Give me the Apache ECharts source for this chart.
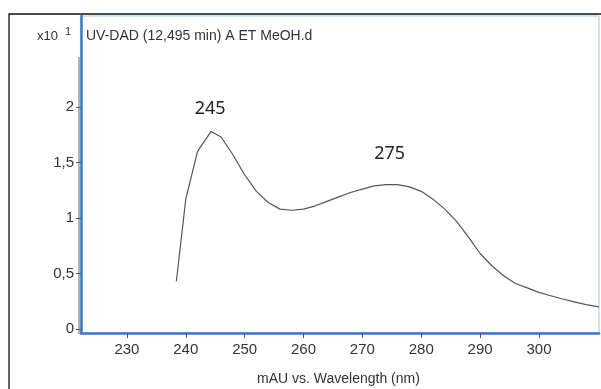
<!DOCTYPE html>
<html>
<head>
<meta charset="UTF-8">
<script src="https://cdn.jsdelivr.net/npm/echarts@6/dist/echarts.min.js"></script>
<style>
  html, body { margin: 0; padding: 0; background: #fff; }
  #chart { width: 601px; height: 389px; }
</style>
</head>
<body>
<div id="chart"></div>
<script>
// spectrum (wavelength nm, signal x10 mAU)
var wavelengths = [238.4, 240, 242, 244.3, 246, 248, 250, 252, 254, 256, 258, 260, 262, 264, 266, 268,
                   270, 272, 274, 276, 278, 280, 282, 284, 286, 288, 290, 292, 294, 296, 298, 300,
                   302, 304, 306, 308, 310.2];
var absorb = [0.43, 1.17, 1.60, 1.78, 1.73, 1.57, 1.39, 1.24, 1.14, 1.08, 1.07, 1.08, 1.11, 1.15, 1.19, 1.23,
              1.26, 1.29, 1.30, 1.30, 1.28, 1.24, 1.17, 1.08, 0.97, 0.83, 0.68, 0.57, 0.48, 0.41, 0.37, 0.33,
              0.30, 0.27, 0.245, 0.22, 0.20];
var xTicks = [230, 240, 250, 260, 270, 280, 290, 300];
var yTicks = [0, 0.5, 1, 1.5, 2];
var peakWl = [244.3, 274.8];
var peakVal = [1.78, 1.30];
var peakText = ['245', '275'];

var pts = wavelengths.map(function (w, i) { return [w, absorb[i]]; });
var marks = peakWl.map(function (w, i) {
  return { coord: [w, peakVal[i]], value: peakText[i], label: { offset: [-1, i == 0 ? -23 : -31] } };
});

var ec = echarts.init(document.getElementById('chart'));
ec.setOption({
  animation: false,
  grid: { left: 81, top: 16, right: 2, bottom: 56, show: true, borderColor: '#a9c4ef', borderWidth: 1 },
  graphic: [
    { type: 'rect', shape: { x: 9, y: 14, width: 620, height: 420 }, style: { fill: 'none', stroke: '#111', lineWidth: 1.3 }, z: -1 },
    { type: 'line', shape: { x1: 79, y1: 57, x2: 79, y2: 334 }, style: { stroke: '#999', lineWidth: 1.5 } },
    { type: 'text', left: 37, top: 30, style: { text: 'x10', font: '13px "Liberation Sans"', fill: '#333' } },
    { type: 'text', left: 65, top: 26, style: { text: '1', font: '11px "Liberation Sans"', fill: '#333' } },
    { type: 'text', left: 86, top: 29, style: { text: 'UV-DAD (12,495 min) A ET MeOH.d', font: '14px "Liberation Sans"', fill: '#333' } },
    { type: 'text', left: 257, top: 372, style: { text: 'mAU vs. Wavelength (nm)', font: '14px "Liberation Sans"', fill: '#333' } }
  ],
  xAxis: {
    type: 'value', min: 222.2, max: 310.2,
    axisLine: { show: true, onZero: false, lineStyle: { color: '#3a74d8', width: 2.5 } },
    axisTick: { show: true, length: 5, customValues: xTicks, lineStyle: { color: '#555' } },
    axisLabel: { customValues: xTicks, color: '#333', fontSize: 15, fontFamily: '"Liberation Sans"', margin: 9 },
    splitLine: { show: false }
  },
  yAxis: {
    type: 'value', min: -0.036, max: 2.82,
    axisLine: { show: true, onZero: false, lineStyle: { color: '#3a74d8', width: 2.5 } },
    axisTick: { show: true, length: 5, customValues: yTicks, lineStyle: { color: '#555' } },
    axisLabel: {
      customValues: yTicks, color: '#333', fontSize: 15, fontFamily: '"Liberation Sans"', margin: 7,
      formatter: function (v) { return String(v).replace('.', ','); }
    },
    splitLine: { show: false }
  },
  series: [{
    type: 'line',
    data: pts,
    showSymbol: false,
    lineStyle: { color: '#555', width: 1.2 },
    markPoint: {
      symbol: 'circle', symbolSize: 0,
      label: { show: true, position: 'inside', formatter: '{c}', color: '#222', fontSize: 18, fontFamily: '"Noto Sans"' },
      data: marks
    }
  }]
});
</script>
</body>
</html>
